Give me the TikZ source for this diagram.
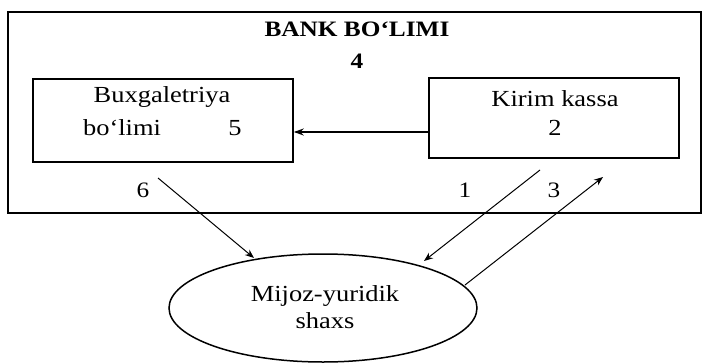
\documentclass[tikz,border=0pt]{standalone}
\usepackage{fontspec}
\setmainfont{Liberation Serif}[FakeStretch=1.15]
\usetikzlibrary{shapes.geometric,arrows.meta}
\begin{document}
\begin{tikzpicture}[x=1pt,y=-1pt,
  boxst/.style={draw,line width=1.6pt,rectangle,inner sep=0pt},
  txt/.style={inner sep=0pt,font=\fontsize{23}{26}\selectfont},
  lbl/.style={inner sep=0pt,font=\fontsize{22}{25}\selectfont},
  thinarrow/.style={line width=1pt,-{Stealth[length=9pt,width=7pt]}},
  thickarrow/.style={line width=1.6pt,-{Stealth[length=10pt,width=7pt]}}]
\useasboundingbox (0,0) rectangle (704,364);
\fill[white] (0,0) rectangle (704,364);
% outer bank box
\node[draw,line width=1.5pt,rectangle,inner sep=0pt,minimum width=693pt,minimum height=201pt] (bank) at (354.5,112.5) {};
\node[lbl,font=\bfseries\fontsize{22}{25}\selectfont] (title) at (357,29) {BANK BO‘LIMI};
\node[lbl,font=\bfseries\fontsize{22}{25}\selectfont] (n4) at (357,61) {4};
% inner boxes
\node[boxst,minimum width=260pt,minimum height=83pt] (bux) at (163,120.5) {};
\node[boxst,minimum width=250pt,minimum height=80pt] (kir) at (554,118) {};
\node[txt] (buxt) at (162,97) {Buxgaletriya};
\node[txt] (buxb) at (122,128) {bo‘limi};
\node[txt] (n5) at (235,128) {5};
\node[txt] (kirt) at (555,99) {Kirim kassa};
\node[txt] (n2) at (555,128) {2};
% client ellipse
\node[draw,line width=1.5pt,ellipse,inner sep=0pt,minimum width=308pt,minimum height=108pt] (cli) at (323,308) {};
\node[txt,align=center] (clit) at (325,307) {Mijoz-yuridik\\[1pt]shaxs};
% labels
\node[lbl] (n6) at (143,190) {6};
\node[lbl] (n1) at (465,190) {1};
\node[lbl] (n3) at (554,190) {3};
% connector end points
\coordinate (s6) at (158,178);
\coordinate (e6) at (254,258);
\coordinate (s1) at (540,170);
\coordinate (e1) at (424,261);
\coordinate (s3) at (465,285);
\coordinate (e3) at (603,177);
% connectors
\draw[thickarrow] ([yshift=-14pt]kir.west) -- ([yshift=-11.5pt]bux.east);
\draw[thinarrow] (s6) -- (e6);
\draw[thinarrow] (s1) -- (e1);
\draw[thinarrow] (s3) -- (e3);
\end{tikzpicture}
\end{document}
